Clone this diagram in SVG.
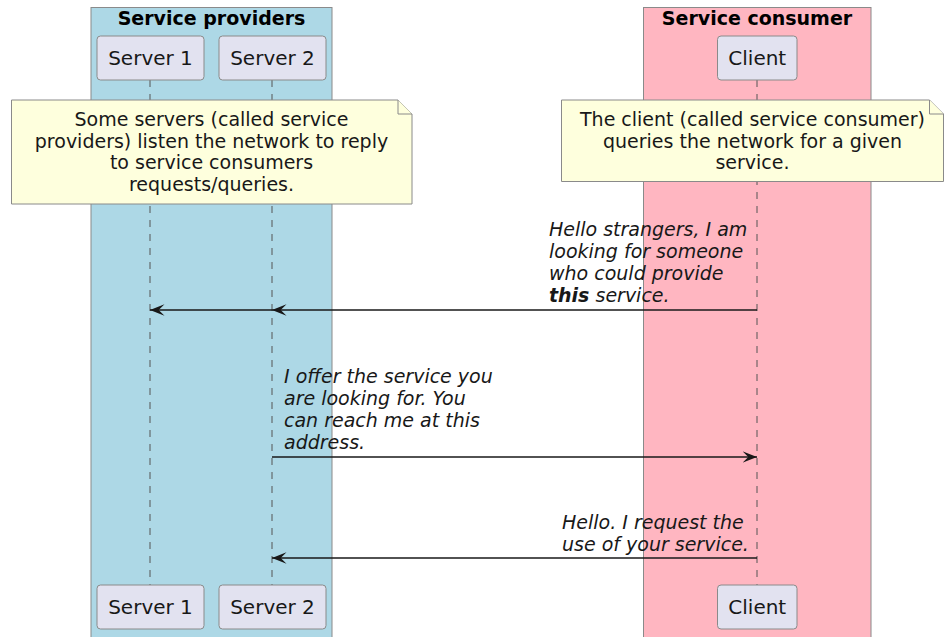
<svg xmlns="http://www.w3.org/2000/svg" width="944" height="637" viewBox="0 0 944 637">
  <style>
    text { font-family: "DejaVu Sans", "Liberation Sans", sans-serif; fill: #000; }
    .grp { stroke: #8a8a8a; stroke-width: 1; }
    .title { font-size: 19px; font-weight: bold; text-anchor: middle; }
    .part rect { fill: #E2E2F0; stroke: #8a8a8a; stroke-width: 1; }
    .part text { font-size: 20px; text-anchor: middle; fill: #181818; }
    .life { stroke: #555; stroke-width: 1; stroke-dasharray: 7 7; fill: none; }
    .note path { fill: #FEFFDD; stroke: #8a8a8a; stroke-width: 1; }
    .note text { font-size: 19px; text-anchor: middle; fill: #181818; }
    .msg line { stroke: #181818; stroke-width: 1.4; }
    .msg text { font-size: 19px; font-style: italic; fill: #181818; }
  </style>
  <defs>
    <marker id="arrow" markerUnits="userSpaceOnUse" viewBox="0 0 14.5 11.6" refX="14.5" refY="5.8" markerWidth="14.5" markerHeight="11.6" orient="auto">
      <path d="M0,0 L14.5,5.8 L0,11.6 L5.8,5.8 Z" fill="#181818"/>
    </marker>
  </defs>

  <rect width="944" height="637" fill="#fff"/>

  <!-- participant groups -->
  <g id="group-providers">
    <rect class="grp" x="91" y="7.5" width="241" height="640" fill="#ADD8E6"/>
    <text class="title" x="211.5" y="25">Service providers</text>
  </g>
  <g id="group-consumer">
    <rect class="grp" x="643.5" y="7.5" width="227.5" height="640" fill="#FFB6C1"/>
    <text class="title" x="757" y="25">Service consumer</text>
  </g>

  <!-- lifelines -->
  <g id="lifelines">
    <line class="life" x1="150" y1="80" x2="150" y2="585"/>
    <line class="life" x1="272" y1="80" x2="272" y2="585"/>
    <line class="life" x1="757" y1="80" x2="757" y2="585"/>
  </g>

  <!-- participants -->
  <g id="server1" class="part">
    <rect x="97" y="36" width="107" height="44" rx="3.5"/>
    <text x="150.5" y="64.5">Server 1</text>
    <rect x="97" y="585" width="107" height="44" rx="3.5"/>
    <text x="150.5" y="613.5">Server 1</text>
  </g>
  <g id="server2" class="part">
    <rect x="219" y="36" width="107" height="44" rx="3.5"/>
    <text x="272.5" y="64.5">Server 2</text>
    <rect x="219" y="585" width="107" height="44" rx="3.5"/>
    <text x="272.5" y="613.5">Server 2</text>
  </g>
  <g id="client" class="part">
    <rect x="717.5" y="36" width="79.5" height="44" rx="3.5"/>
    <text x="757.25" y="64.5">Client</text>
    <rect x="717.5" y="585" width="79.5" height="44" rx="3.5"/>
    <text x="757.25" y="613.5">Client</text>
  </g>

  <!-- notes -->
  <g id="note-providers" class="note">
    <path d="M11.5,100 L398,100 L412,114 L412,204 L11.5,204 Z"/>
    <path d="M398,100 L398,114 L412,114" fill="none"/>
    <text x="211.5" y="126">Some servers (called service</text>
    <text x="211.5" y="147.5">providers) listen the network to reply</text>
    <text x="211.5" y="169">to service consumers</text>
    <text x="211.5" y="190.5">requests/queries.</text>
  </g>
  <g id="note-consumer" class="note">
    <path d="M561.5,100 L929.5,100 L943.5,114 L943.5,181.5 L561.5,181.5 Z"/>
    <path d="M929.5,100 L929.5,114 L943.5,114" fill="none"/>
    <text x="752.5" y="126">The client (called service consumer)</text>
    <text x="752.5" y="147.5">queries the network for a given</text>
    <text x="752.5" y="169">service.</text>
  </g>

  <!-- messages -->
  <g id="connectors" class="msg">
    <line x1="757" y1="310" x2="272" y2="310" marker-end="url(#arrow)"/>
    <line x1="272" y1="310" x2="150" y2="310" marker-end="url(#arrow)"/>
    <text x="549" y="236">Hello strangers, I am</text>
    <text x="549" y="258">looking for someone</text>
    <text x="549" y="280">who could provide</text>
    <text x="549" y="302"><tspan font-weight="bold">this</tspan> service.</text>

    <line x1="272" y1="457" x2="757" y2="457" marker-end="url(#arrow)"/>
    <text x="284" y="383">I offer the service you</text>
    <text x="284" y="405">are looking for. You</text>
    <text x="284" y="427">can reach me at this</text>
    <text x="284" y="449">address.</text>

    <line x1="757" y1="558" x2="272" y2="558" marker-end="url(#arrow)"/>
    <text x="562" y="529">Hello. I request the</text>
    <text x="562" y="551">use of your service.</text>
  </g>
</svg>
